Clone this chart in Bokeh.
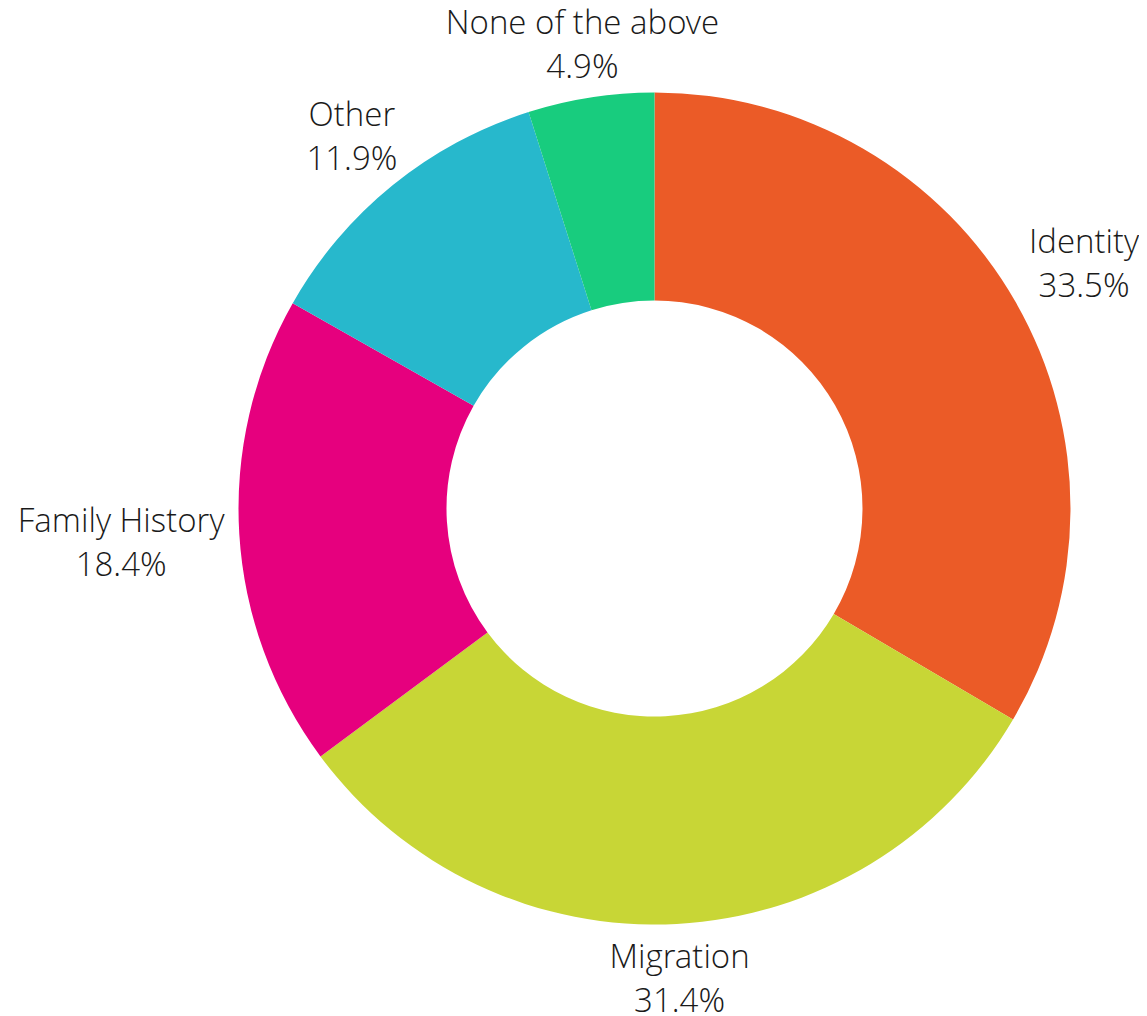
import math
from bokeh.plotting import figure
from bokeh.models import ColumnDataSource
from bokeh.core.properties import value
from bokeh.embed import file_html
from bokeh.resources import INLINE

# ---- data ----
categories = ["Identity", "Migration", "Family History", "Other", "None of the above"]
percents = [33.5, 31.4, 18.4, 11.9, 4.9]
colors = ["#EB5B27", "#C8D636", "#E6007E", "#27B8CC", "#18CC7E"]

# ---- layout (pixel units) ----
W, H = 1139, 1016
CX, CY = 654, 508          # center of donut in figure pixels from top-left
R_OUT, R_IN = 416, 208
FS = 33
GAP = 17
HALF_H = 37

# approximate glyph advances (em) for estimating label extents
_adv = {" ": 0.26, "a": 0.54, "b": 0.6, "d": 0.6, "e": 0.55, "f": 0.33, "g": 0.54,
        "h": 0.6, "i": 0.25, "l": 0.25, "m": 0.91, "n": 0.6, "o": 0.59, "r": 0.4,
        "s": 0.47, "t": 0.34, "v": 0.5, "y": 0.5, "F": 0.54, "H": 0.72, "I": 0.28,
        "M": 0.86, "N": 0.74, "O": 0.76, ".": 0.26, "%": 0.8}


def text_w(s):
    return sum(_adv.get(ch, 0.56) for ch in s) * FS * 0.94


p = figure(width=W, height=H, output_backend="svg", toolbar_location=None,
           x_range=(-CX, W - CX), y_range=(-(H - CY), CY),
           min_border=0, outline_line_color=None)
p.axis.visible = False
p.grid.visible = False
p.background_fill_color = "white"
p.border_fill_color = "white"

total = sum(percents)
starts, ends, mids = [], [], []
cum = 0.0
for v in percents:
    a0 = math.pi / 2 - 2 * math.pi * cum / total
    a1 = math.pi / 2 - 2 * math.pi * (cum + v) / total
    starts.append(a0)
    ends.append(a1)
    mids.append((a0 + a1) / 2)
    cum += v

src = ColumnDataSource(dict(start=starts, end=ends, color=colors))
p.annular_wedge(x=0, y=0, inner_radius=R_IN, outer_radius=R_OUT,
                start_angle="start", end_angle="end", direction="clock",
                fill_color="color", line_color=None, source=src)

lx, ly, txt = [], [], []
for name, v, a in zip(categories, percents, mids):
    label = f"{v:.1f}%"
    hw = max(text_w(name), text_w(label)) / 2
    c, s = math.cos(a), math.sin(a)
    d = min(hw / abs(c) if abs(c) > 1e-6 else 1e9,
            HALF_H / abs(s) if abs(s) > 1e-6 else 1e9)
    r = R_OUT + GAP + d
    lx.append(r * c)
    ly.append(r * s)
    txt.append(f"{name}\n{label}")

lsrc = ColumnDataSource(dict(x=lx, y=ly, t=txt))
p.text(x="x", y="y", text="t", source=lsrc, text_align="center",
       text_baseline="middle", text_font=value("Open Sans Light"),
       text_font_size=f"{FS}px", text_color="#1a1a1a", text_line_height=0.98)

open("out.html", "w").write(file_html(p, INLINE))
